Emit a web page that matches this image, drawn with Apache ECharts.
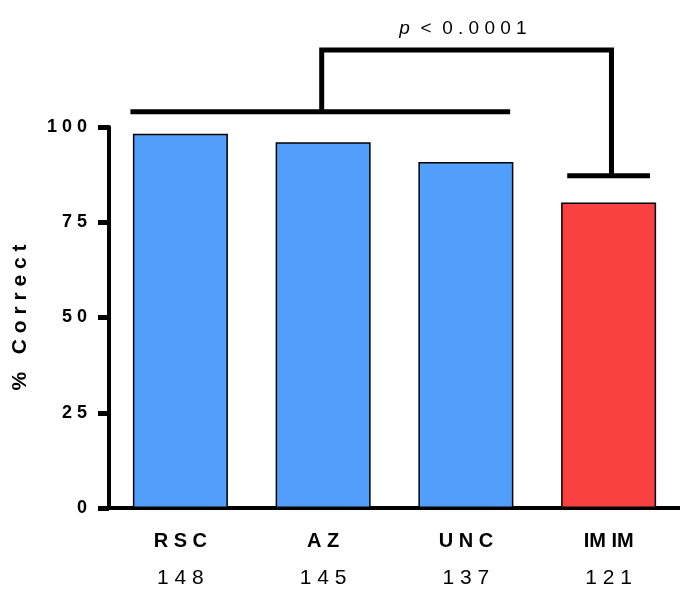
<!DOCTYPE html>
<html>
<head>
<meta charset="utf-8">
<script src="https://cdn.jsdelivr.net/npm/echarts@6/dist/echarts.min.js"></script>
<style>
  html, body { margin: 0; padding: 0; background: #fff; }
  #chart { width: 680px; height: 589px; }
</style>
</head>
<body>
<div id="chart"></div>
<script>
  // labels as they appear in the figure (letter-spaced)
  var categories = ["R S C", "A Z", "U N C", "IM IM"];
  var counts = [148, 145, 137, 121];
  var percentCorrect = [98.2, 96.0, 90.8, 80.2];
  var barColors = ["#529efb", "#529efb", "#529efb", "#f94141"];

  // comparison bracket: x in category index units, y in % correct
  var groupLine = [[-0.35, 104], [2.31, 104]];
  var bracketLine = [[0.99, 104], [0.99, 120.2], [3.02, 120.2], [3.02, 87.2]];
  var imimLine = [[2.71, 87.2], [3.29, 87.2]];

  var FONT = "Liberation Sans";

  // the original figure uses wide letter spacing
  function spaced(s) {
    return String(s).split("").join(" ");
  }

  var chart = echarts.init(document.getElementById("chart"));

  function bracketSeries(points) {
    return {
      type: "line",
      xAxisIndex: 1,
      data: points,
      symbol: "none",
      clip: false,
      silent: true,
      lineStyle: { color: "#000", width: 5, cap: "butt", join: "miter" }
    };
  }

  chart.setOption({
    animation: false,
    textStyle: { fontFamily: FONT },
    title: {
      text: "{i|p}  <  " + spaced("0.0001"),
      left: 458,
      top: 14,
      textAlign: "center",
      textStyle: {
        fontFamily: FONT,
        fontSize: 19,
        fontWeight: "normal",
        color: "#000",
        rich: {
          i: { fontFamily: FONT, fontSize: 19, fontStyle: "italic", color: "#000" }
        }
      }
    },
    grid: { left: 109, right: 0, top: 127, bottom: 81 },
    xAxis: [
      {
        type: "category",
        data: categories,
        axisLine: { lineStyle: { color: "#000", width: 4 } },
        axisTick: { alignWithLabel: true, length: 8, lineStyle: { color: "#000", width: 4 } },
        axisLabel: {
          margin: 15,
          formatter: function (v, i) {
            return "{a|" + v + "}\n{b|" + spaced(counts[i]) + "}";
          },
          rich: {
            a: { fontFamily: FONT, fontSize: 20, fontWeight: "bold", color: "#000", lineHeight: 37 },
            b: { fontFamily: FONT, fontSize: 21, fontWeight: "normal", color: "#000", lineHeight: 37 }
          }
        }
      },
      { type: "value", min: -0.5, max: 3.5, show: false }
    ],
    yAxis: {
      type: "value",
      min: 0,
      max: 100,
      interval: 25,
      name: spaced("% Correct"),
      nameLocation: "middle",
      nameGap: 78,
      nameTextStyle: { fontFamily: FONT, fontSize: 21, fontWeight: "bold", color: "#000" },
      axisLine: { show: true, onZero: false, lineStyle: { color: "#000", width: 4 } },
      axisTick: { show: true, length: 11, lineStyle: { color: "#000", width: 5 } },
      splitLine: { show: false },
      axisLabel: {
        margin: 22,
        fontFamily: FONT,
        fontSize: 18,
        fontWeight: "bold",
        color: "#000",
        formatter: function (v) { return spaced(v); }
      }
    },
    series: [
      {
        type: "bar",
        barWidth: 95,
        data: percentCorrect.map(function (v, i) {
          return { value: v, itemStyle: { color: barColors[i] } };
        }),
        itemStyle: { borderColor: "#000", borderWidth: 1.5 }
      },
      bracketSeries(groupLine),
      bracketSeries(bracketLine),
      bracketSeries(imimLine)
    ]
  });
</script>
</body>
</html>
